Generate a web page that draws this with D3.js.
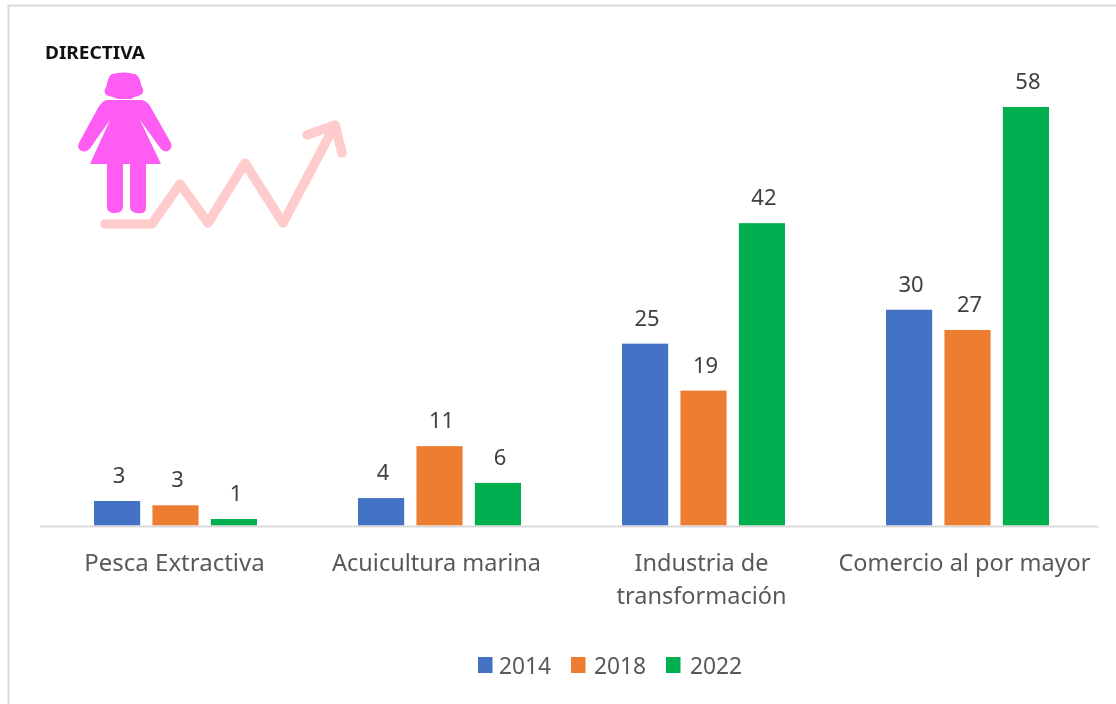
<!DOCTYPE html>
<html><head><meta charset="utf-8">
<script src="https://cdnjs.cloudflare.com/ajax/libs/d3/7.8.5/d3.min.js"></script>
<style>html,body{margin:0;padding:0;background:#fff}svg{display:block;filter:blur(.45px)}text{font-family:"Noto Sans",sans-serif}</style>
</head><body><div id="c"></div>
<script>
const categories = [["Pesca Extractiva"],["Acuicultura marina"],["Industria de","transformación"],["Comercio al por mayor"]];
const categoryKeys = ["Pesca Extractiva","Acuicultura marina","Industria de transformación","Comercio al por mayor"];
const years = ["2014","2018","2022"];
const values2014 = [3.4,3.8,25.2,29.9];
const values2018 = [2.8,11,18.7,27.1];
const values2022 = [0.9,5.9,41.9,58];
const colors = ["#4472C4","#ED7D31","#00B050"];
const title = "DIRECTIVA";
const seriesValues = [values2014,values2018,values2022];

const W=1116,H=704;
const svg=d3.select("#c").append("svg").attr("width",W).attr("height",H);
// frame
svg.append("path").attr("d","M8.5 704V5.5H1116").attr("fill","none").attr("stroke","#d9d9d9").attr("stroke-width",2);

const x0=d3.scaleBand().domain(categoryKeys).range([43.5,1099.5]).paddingInner(0).paddingOuter(0);
const x1=d3.scaleBand().domain(years).range([x0.bandwidth()/2-81.5,x0.bandwidth()/2+81.5]).paddingInner(0.21).paddingOuter(0);
const y=d3.scaleLinear().domain([0,58]).range([525.5,107]);
const labelShift=[-1,-3,-2,-3];

categoryKeys.forEach((c,i)=>{
  const g=svg.append("g").attr("transform",`translate(${x0(c)},0)`);
  years.forEach((yr,j)=>{
    const v=seriesValues[j][i];
    g.append("rect").attr("x",x1(yr)).attr("y",y(v)).attr("width",x1.bandwidth()).attr("height",y(0)-y(v)).attr("fill",colors[j]);
    g.append("text").attr("x",x1(yr)+x1.bandwidth()/2+2).attr("y",y(v)-18).attr("text-anchor","middle")
      .attr("font-size",22).attr("fill","#404040").text(d3.format(".0f")(v));
  });
  categories[i].forEach((t,k)=>{
    g.append("text").attr("x",x0.bandwidth()/2+labelShift[i]).attr("y",571+k*33).attr("text-anchor","middle")
      .attr("font-size",i==0?24:23.5).attr("fill","#595959").text(t);
  });
});
svg.append("line").attr("x1",40).attr("x2",1098).attr("y1",526.5).attr("y2",526.5).attr("stroke","#d9d9d9").attr("stroke-width",2);

// legend
years.forEach((yr,j)=>{
  svg.append("rect").attr("x",[478,571,666][j]).attr("y",657).attr("width",14.5).attr("height",16).attr("fill",colors[j]);
  svg.append("text").attr("x",[499,594,690][j]).attr("y",674).attr("font-size",22.8).attr("fill","#595959").text(yr);
});

// title
svg.append("text").attr("x",45).attr("y",59).attr("font-size",18.5).attr("font-weight",700).attr("fill","#111").attr("textLength",100).attr("lengthAdjust","spacingAndGlyphs").text(title);

// trend arrow pictogram
svg.append("path").attr("d","M105 224H152L180 184L208 223L245 163L283 223L335 125M307 135L335 125L342 153")
  .attr("fill","none").attr("stroke","#FFCCCC").attr("stroke-width",9.5).attr("stroke-linecap","round").attr("stroke-linejoin","round");

// woman pictogram
const pink="#FF5CF4";
const w=svg.append("g").attr("fill",pink);
w.append("path").attr("d","M112 74Q124 71 135 74C141 77 140 83 142 87C145 92 142 95 138 96C135 97 133 97 132 99H117C115 97 112 97 109 96C105 95 103 92 106 87C108 83 107 77 112 74Z");
w.append("path").attr("d","M108 100H142C146 101 148 103 150 106L171 143C173 148 168 153 164 151C161 150 160 147 158 145L140 120L161 164H146L146 208C146 213 141 214 136 213C132 212 130 210 130 206V164H123V206C123 210 121 213 115 213C110 213 107 211 107 207V164H90L110 120L91 147C88 152 82 153 79 149C77 146 79 143 81 139L98 108C101 103 104 100 108 100Z");
</script></body></html>
